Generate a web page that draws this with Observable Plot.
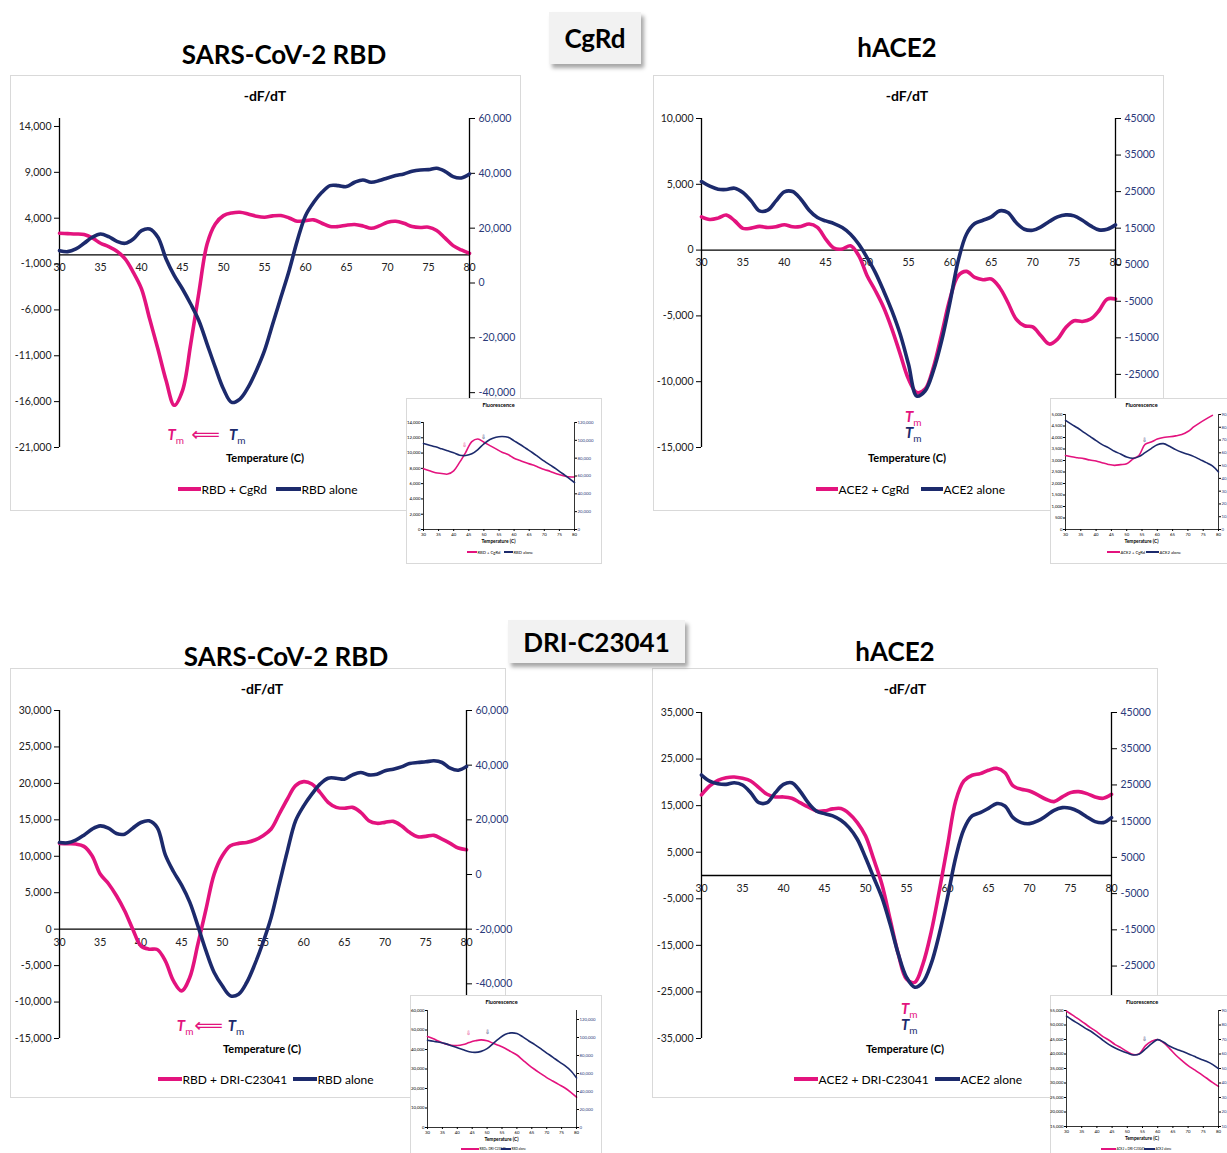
<!DOCTYPE html>
<html>
<head>
<meta charset="utf-8">
<script src="https://cdn.jsdelivr.net/npm/d3@7"></script>
<script src="https://cdn.jsdelivr.net/npm/@observablehq/plot@0.6"></script>
<style>
  html, body { margin:0; padding:0; background:#fff; overflow:hidden; }
  #root { position:relative; width:1227px; height:1153px; overflow:hidden; background:#fff;
          font-family: Lato, "Open Sans", "DejaVu Sans", sans-serif; color:#000; }
  #root > * { position:absolute; }
  .frame { border:1px solid #d9d9d9; box-sizing:border-box; }
  .ctr { transform: translate(-50%, -50%); white-space:nowrap; }
  .vc { transform: translateY(-50%); white-space:nowrap; }
  .title { font-size:26px; font-weight:700; }
  .tag { background:#f2f2f2; box-shadow: 3px 4px 4px rgba(0,0,0,0.35); font-size:26px; font-weight:700;
         display:flex; align-items:center; justify-content:center; box-sizing:border-box; }
  .sub { font-size:14px; font-weight:700; }
  .xl { font-size:11px; font-weight:700; }
  .leg { font-size:12px; }
  .tm { font-size:15px; font-weight:700; font-style:italic; line-height:1; }
  .tm sub { font-size:10px; font-style:normal; font-weight:400; }
  .inset { background:#fff; border:1px solid #d9d9d9; box-sizing:border-box; }
  .ititle { font-size:5.5px; font-weight:700; }
  .ixl { font-size:4.8px; font-weight:700; }
  .ileg { font-size:4.2px; }
  .ileg2 { font-size:3.1px; }
</style>
</head>
<body>
<div id="root"></div>
<script>
// ---------------- DATA ----------------
const temps = [30,31,32,33,34,35,36,37,38,39,40,41,42,43,44,45,46,47,48,49,50,51,52,53,54,55,56,57,58,59,60,61,62,63,64,65,66,67,68,69,70,71,72,73,74,75,76,77,78,79,80];
const xTicks = [30,35,40,45,50,55,60,65,70,75,80];
const tempsInset = [30,32,34,36,38,40,42,44,46,48,50,52,54,56,58,60,62,64,66,68,70,72,74,76,78,80];

// Panel A: SARS-CoV-2 RBD, CgRd  (-dF/dT)
const rbdCgRd = [2360,2320,2280,2210,1850,1270,900,390,-440,-1900,-3700,-7000,-10260,-13700,-16400,-14800,-9730,-4100,1190,3380,4280,4570,4650,4470,4220,4100,4250,4290,4030,3670,3740,3820,3450,3090,3090,3240,3310,3160,2900,3160,3560,3670,3450,3090,2980,3020,2650,1850,1010,540,170];
const rbdAloneA = [11800,11430,12410,14480,16670,17880,16910,15210,14480,16060,19100,19710,16670,8760,2680,-2190,-7660,-13750,-22260,-30780,-38680,-43550,-42330,-38080,-31990,-24700,-14960,-5230,4500,15450,24570,29440,33090,35520,35520,35160,36740,37590,36740,37350,38320,39170,39780,40750,41240,41360,41850,40750,38810,38320,39780];
const ticksA_left = [-21000,-16000,-11000,-6000,-1000,4000,9000,14000];
const ticksA_right = [-40000,-20000,0,20000,40000,60000];

// Panel B: hACE2, CgRd
const ace2CgRd = [2530,2330,2430,2660,2230,1650,1670,1800,1720,1770,1930,1770,1800,1980,1720,840,150,80,330,-430,-1950,-3090,-4360,-6000,-7900,-9800,-10820,-10560,-8920,-6380,-3720,-1950,-1620,-2080,-2250,-2200,-2840,-3980,-5240,-5750,-5830,-6510,-7140,-6760,-5880,-5370,-5420,-5240,-4610,-3720,-3720];
const ace2AloneB = [27760,26480,25660,25570,25930,24750,22460,19730,19910,22460,24930,25020,22920,19910,17900,16990,16260,15160,13340,10600,6950,2850,-2170,-7640,-14030,-22240,-30910,-29540,-24060,-15850,-5360,6040,13340,16260,17170,18080,19730,19270,16530,14710,14430,15350,16810,18080,18630,18360,17170,15620,14530,14710,15900];
const ticksB_left = [-15000,-10000,-5000,0,5000,10000];
const ticksB_right = [-25000,-15000,-5000,5000,15000,25000,35000,45000];

// Panel C: SARS-CoV-2 RBD, DRI-C23041
const rbdDRI = [11770,11720,11680,11360,10070,7560,6270,4580,2520,0,-2290,-2750,-2790,-4350,-7100,-8470,-6640,-2060,2750,7560,10070,11450,11770,11900,12230,12820,13740,15800,17860,19690,20240,19920,18770,17400,16710,16580,16710,16030,14880,14520,14650,14790,14190,13280,12680,12730,12870,12360,11770,11130,10900];
const rbdAloneC = [11710,11590,12560,14390,16590,17800,16950,15000,14760,16950,19020,19630,17200,7200,1100,-3900,-10100,-18780,-27930,-35850,-40730,-44390,-43780,-39510,-32800,-24880,-15730,-3540,8660,19630,25120,29390,33050,35240,35240,34880,36460,37320,36460,36710,37930,38540,39390,40610,40980,41220,41590,40980,38900,38170,39510];
const ticksC_left = [-15000,-10000,-5000,0,5000,10000,15000,20000,25000,30000];
const ticksC_right = [-40000,-20000,0,20000,40000,60000];

// Panel D: hACE2, DRI-C23041
const ace2DRI = [17300,19230,20440,21010,21160,20870,20300,18870,17440,16870,16870,16580,15650,14720,13870,13870,14300,14370,13300,11370,8510,3500,-1860,-9360,-16870,-22230,-22950,-19010,-12220,-3290,6360,16010,20300,21520,21870,22590,23020,22090,19230,18510,18160,17300,16370,15870,16870,17800,18010,17580,16870,16580,17440];
const ace2AloneD = [27740,26080,25350,25160,25620,24980,22870,20110,20110,22870,25160,25620,23330,20110,17820,17080,16440,15250,13230,10010,4960,-550,-6060,-13400,-21670,-28100,-30850,-29470,-24420,-16160,-6060,4960,12770,16440,17360,18550,19840,19200,15980,14600,14330,15060,16440,18000,18740,18550,17640,16170,14880,14600,15980];
const ticksD_left = [-35000,-25000,-15000,-5000,5000,15000,25000,35000];
const ticksD_right = [-25000,-15000,-5000,5000,15000,25000,35000,45000];

// Insets: Fluorescence
const fA_pink = [7940,7680,7420,7330,7250,7680,8810,10110,11500,11850,11410,10980,10550,10110,9810,9330,9030,8720,8460,8160,7860,7600,7290,7070,6900,6860];
const fA_navy = [96440,94570,92700,90460,88220,85970,83360,82980,84850,89710,96070,100930,103540,104290,103540,99430,95320,90830,86350,81490,76630,72140,67660,62800,57940,52710];
const fB_pink = [3220,3160,3120,3080,3020,2980,2900,2830,2790,2820,2860,3060,3220,3700,3800,3930,4000,4030,4070,4130,4260,4470,4650,4810,4960];
const fB_navy = [85410,82290,79420,76040,72910,69530,66400,64060,61190,59110,56770,55730,57030,60150,63280,66400,67180,65100,62500,60410,58850,57030,54690,52340,49740,45050];
const fC_pink = [46680,45470,44090,42880,42190,42020,42530,43570,44440,44950,44440,43230,42020,40630,38900,37170,34570,31990,29740,27660,25590,23860,22130,20400,18150,15560];
const fC_navy = [96900,95780,94670,93180,90940,88700,86470,84230,83480,84600,87580,93180,98770,103240,105100,104360,100630,96160,92060,87580,82740,78270,73420,68950,63360,55160];
const fD_pink = [54780,53390,52010,50510,49010,47630,46020,44750,43250,42100,40830,39790,40140,42900,44400,44980,43830,41750,39560,37710,35990,34600,33220,31720,30220,28840];
const fD_navy = [86070,83300,80760,78000,75690,72700,69470,66470,64170,62320,60710,59330,60020,63480,67160,69930,68090,65320,63480,61860,60250,58400,56560,54950,52870,49880];

// Arrow markers on insets (onset temperature)
const fA_marks = {pink: [44], navy: [50]};
const fB_marks = {pink: [56], navy: []};
const fC_marks = {pink: [44], navy: [50]};
const fD_marks = {pink: [56], navy: []};

// ---------------- STYLE ----------------
const PINK = "#e3137e", NAVY = "#1c2a6c", NAVYTXT = "#2b3a7a";
const fmtComma = d => d.toLocaleString("en-US");
const fmtPlain = d => String(d);

const root = document.getElementById("root");
function add(html, x, y, cls, style) {
  const d = document.createElement("div");
  d.className = cls || "";
  d.style.cssText = (style || "") + `left:${x}px;top:${y}px;`;
  d.innerHTML = html;
  root.appendChild(d);
  return d;
}
function addNode(node, x, y) {
  node.style.position = "absolute";
  node.style.left = x + "px";
  node.style.top = y + "px";
  root.appendChild(node);
}
function legend(items, y, cls, lh) {
  items.forEach(it => {
    add("", it.x1, y - lh / 2, "", `width:${it.x2 - it.x1}px;height:${lh}px;background:${it.color};`);
    add(it.label, it.x2 + 0.5, y, cls + " vc", "");
  });
}
const tMin = arr => temps[d3.minIndex(arr)];

// ---------------- MAIN PANEL ----------------
function mainPanel(c) {
  const base = {
    width: c.w, height: c.h, marginLeft: c.ml, marginRight: c.mr, marginTop: c.mt, marginBottom: c.mb,
    x: {domain: [30, 80], axis: null},
    style: {fontFamily: "Lato, 'Open Sans', sans-serif", fontSize: "10.5px", background: "transparent", color: "#000", overflow: "visible"}
  };
  const left = Plot.plot({...base, y: {domain: c.leftDomain}, marks: [
    Plot.ruleX([30], {stroke: "#000", strokeWidth: 1.3}),
    Plot.ruleY([0], {stroke: "#000", strokeWidth: 1.3}),
    Plot.axisY(c.leftTicks, {anchor: "left", tickFormat: fmtComma, tickSize: 5, tickPadding: 3, label: null, stroke: "#000", fill: "#222"}),
    Plot.text(xTicks, {x: d => d, y: 0, dy: 13, text: d => String(d), fill: "#222"}),
    Plot.line(c.pink, {x: temps, y: c.pink, stroke: PINK, strokeWidth: 3.6, curve: "catmull-rom"})
  ]});
  const right = Plot.plot({...base, y: {domain: c.rightDomain}, marks: [
    Plot.ruleX([80], {stroke: "#000", strokeWidth: 1.3}),
    Plot.axisY(c.rightTicks, {anchor: "right", tickFormat: c.rightFmt, tickSize: 5, tickPadding: 4, label: null, stroke: "#000", fill: NAVYTXT}),
    Plot.line(c.navy, {x: temps, y: c.navy, stroke: NAVY, strokeWidth: 3.6, curve: "catmull-rom"})
  ]});
  addNode(left, c.x, c.y);
  addNode(right, c.x, c.y);
  return v => c.x + left.scale("x").apply(v);
}

// ---------------- INSET ----------------
function inset(c) {
  add("", c.bx, c.by, "inset", `width:${c.bw}px;height:${c.bh}px;`);
  const base = {
    width: c.bw, height: c.bh, marginLeft: c.ml, marginRight: c.mr, marginTop: c.mt, marginBottom: c.mb,
    x: {domain: [30, 80], axis: null},
    style: {fontFamily: "Lato, sans-serif", fontSize: "4.3px", background: "transparent", color: "#000", overflow: "visible"}
  };
  const pinkT = tempsInset.slice(0, c.pink.length);
  const valAt = (arr, t) => arr[tempsInset.indexOf(t)];
  const left = Plot.plot({...base, y: {domain: c.leftDomain}, marks: [
    Plot.ruleX([30], {stroke: "#000", strokeWidth: 0.8}),
    Plot.ruleY([c.leftDomain[0]], {stroke: "#000", strokeWidth: 0.8}),
    Plot.axisY(c.leftTicks, {anchor: "left", tickFormat: fmtComma, tickSize: 2, tickPadding: 1, label: null}),
    Plot.axisX(xTicks, {anchor: "bottom", tickSize: 2, tickPadding: 1, label: null}),
    Plot.line(c.pink, {x: pinkT, y: c.pink, stroke: PINK, strokeWidth: 1.6, curve: "catmull-rom"}),
    Plot.text(c.marks.pink, {x: d => d, y: d => valAt(c.pink, d), dy: c.pinkDy, dx: -1, text: () => "⇩", fill: c.pinkMarkColor || PINK, fontSize: 6})
  ]});
  const right = Plot.plot({...base, y: {domain: c.rightDomain}, marks: [
    Plot.ruleX([80], {stroke: "#000", strokeWidth: 0.8}),
    Plot.axisY(c.rightTicks, {anchor: "right", tickFormat: fmtComma, tickSize: 2, tickPadding: 1, label: null, stroke: "#000", fill: NAVYTXT}),
    Plot.line(c.navy, {x: tempsInset, y: c.navy, stroke: NAVY, strokeWidth: 1.6, curve: "catmull-rom"}),
    Plot.text(c.marks.navy, {x: d => d, y: d => valAt(c.navy, d), dy: c.navyDy, text: () => "⇩", fill: NAVY, fontSize: 6})
  ]});
  addNode(left, c.bx, c.by);
  addNode(right, c.bx, c.by);
  const cx = c.bx + (c.ml + c.bw - c.mr) / 2;
  add("Fluorescence", cx, c.by + 6.5, "ctr ititle", "");
  add("Temperature (C)", cx, c.by + c.bh - c.mb + 12, "ctr ixl", "");
  legend(c.legend, c.legY, c.legCls, 1.4);
}

// ---------------- HEADERS & FRAMES ----------------
add("", 10, 75, "frame", "width:511px;height:436px;");
add("", 653, 75, "frame", "width:511px;height:436px;");
add("", 10, 668, "frame", "width:496px;height:430px;");
add("", 652, 668, "frame", "width:506px;height:430px;");

add("SARS-CoV-2 RBD", 284, 54, "ctr title", "");
add("hACE2", 897, 47, "ctr title", "");
add("CgRd", 549, 12, "tag", "width:92px;height:52px;");
add("SARS-CoV-2 RBD", 286, 656, "ctr title", "");
add("hACE2", 895, 651, "ctr title", "");
add("DRI-C23041", 508, 620, "tag", "width:177px;height:43px;");

// ---------------- PANEL A ----------------
const sxA = mainPanel({x: 0, y: 100, w: 540, h: 360, ml: 59, mr: 71, mt: 18, mb: 13,
  leftDomain: [-21000, 14870], leftTicks: ticksA_left,
  rightDomain: [-60000, 60000], rightTicks: ticksA_right, rightFmt: fmtComma,
  pink: rbdCgRd, navy: rbdAloneA});
add("-dF/dT", 265, 95, "ctr sub", "");
add("Temperature (C)", 265, 457, "ctr xl", "");
add("<i>T</i><sub>m</sub>", sxA(tMin(rbdCgRd)) + 2, 436, "ctr tm", `color:${PINK};`);
add("<i>T</i><sub>m</sub>", sxA(tMin(rbdAloneA)) + 6, 436, "ctr tm", `color:${NAVY};`);
add("⟸", (sxA(tMin(rbdCgRd)) + sxA(tMin(rbdAloneA))) / 2 + 3, 434, "ctr", `color:${PINK};font-size:20px;font-family:'DejaVu Sans';`);
legend([{x1: 178, x2: 201, color: PINK, label: "RBD + CgRd"}, {x1: 276, x2: 301, color: NAVY, label: "RBD alone"}], 489, "leg", 3.5);

// ---------------- PANEL B ----------------
const sxB = mainPanel({x: 640, y: 100, w: 580, h: 360, ml: 61, mr: 105, mt: 18, mb: 13,
  leftDomain: [-15000, 10000], leftTicks: ticksB_left,
  rightDomain: [-45000, 45000], rightTicks: ticksB_right, rightFmt: fmtPlain,
  pink: ace2CgRd, navy: ace2AloneB});
add("-dF/dT", 907, 95, "ctr sub", "");
add("Temperature (C)", 907, 457, "ctr xl", "");
add("<i>T</i><sub>m</sub>", sxB(tMin(ace2CgRd)) - 3, 418, "ctr tm", `color:${PINK};`);
add("<i>T</i><sub>m</sub>", sxB(tMin(ace2AloneB)) - 3, 434, "ctr tm", `color:${NAVY};`);
legend([{x1: 816, x2: 838, color: PINK, label: "ACE2 + CgRd"}, {x1: 921, x2: 943, color: NAVY, label: "ACE2 alone"}], 489, "leg", 3.5);

// ---------------- PANEL C ----------------
const sxC = mainPanel({x: 0, y: 692, w: 540, h: 360, ml: 59, mr: 74, mt: 18, mb: 14,
  leftDomain: [-15000, 30000], leftTicks: ticksC_left,
  rightDomain: [-60000, 60000], rightTicks: ticksC_right, rightFmt: fmtComma,
  pink: rbdDRI, navy: rbdAloneC});
add("-dF/dT", 262, 688, "ctr sub", "");
add("Temperature (C)", 262, 1048, "ctr xl", "");
add("<i>T</i><sub>m</sub>", sxC(tMin(rbdDRI)) + 4, 1027, "ctr tm", `color:${PINK};`);
add("<i>T</i><sub>m</sub>", sxC(tMin(rbdAloneC)) + 6, 1027, "ctr tm", `color:${NAVY};`);
add("⟸", (sxC(tMin(rbdDRI)) + sxC(tMin(rbdAloneC))) / 2 + 3, 1025, "ctr", `color:${PINK};font-size:20px;font-family:'DejaVu Sans';`);
legend([{x1: 158, x2: 182, color: PINK, label: "RBD + DRI-C23041"}, {x1: 293, x2: 317, color: NAVY, label: "RBD alone"}], 1079, "leg", 3.5);

// ---------------- PANEL D ----------------
const sxD = mainPanel({x: 640, y: 692, w: 580, h: 360, ml: 61, mr: 109, mt: 20, mb: 14,
  leftDomain: [-35000, 35000], leftTicks: ticksD_left,
  rightDomain: [-45000, 45000], rightTicks: ticksD_right, rightFmt: fmtPlain,
  pink: ace2DRI, navy: ace2AloneD});
add("-dF/dT", 905, 688, "ctr sub", "");
add("Temperature (C)", 905, 1048, "ctr xl", "");
add("<i>T</i><sub>m</sub>", sxD(tMin(ace2DRI)) - 5, 1010, "ctr tm", `color:${PINK};`);
add("<i>T</i><sub>m</sub>", sxD(tMin(ace2AloneD)) - 5, 1026, "ctr tm", `color:${NAVY};`);
legend([{x1: 794, x2: 818, color: PINK, label: "ACE2 + DRI-C23041"}, {x1: 935, x2: 960, color: NAVY, label: "ACE2 alone"}], 1079, "leg", 3.5);

// ---------------- INSETS ----------------
inset({bx: 406, by: 398, bw: 196, bh: 166, ml: 17, mr: 28, mt: 24, mb: 35,
  leftDomain: [0, 14000], leftTicks: [0,2000,4000,6000,8000,10000,12000,14000],
  rightDomain: [0, 120000], rightTicks: [0,20000,40000,60000,80000,100000,120000],
  pink: fA_pink, navy: fA_navy, marks: fA_marks, pinkDy: -7, navyDy: -7, legY: 552, legCls: "ileg",
  legend: [{x1: 467, x2: 477, color: PINK, label: "RBD + CgRd"}, {x1: 504, x2: 513, color: NAVY, label: "RBD alone"}]});
inset({bx: 1050, by: 398, bw: 182, bh: 166, ml: 15, mr: 14, mt: 16, mb: 35,
  leftDomain: [0, 5000], leftTicks: [0,500,1000,1500,2000,2500,3000,3500,4000,4500,5000],
  rightDomain: [0, 90000], rightTicks: [0,10000,20000,30000,40000,50000,60000,70000,80000,90000],
  pink: fB_pink, navy: fB_navy, marks: fB_marks, pinkMarkColor: NAVY, pinkDy: -4, navyDy: -7, legY: 552, legCls: "ileg",
  legend: [{x1: 1107, x2: 1120, color: PINK, label: "ACE2 + CgRd"}, {x1: 1146, x2: 1159, color: NAVY, label: "ACE2 alone"}]});
inset({bx: 410, by: 995, bw: 192, bh: 160, ml: 17, mr: 26, mt: 15, mb: 28,
  leftDomain: [0, 60000], leftTicks: [0,10000,20000,30000,40000,50000,60000],
  rightDomain: [0, 130000], rightTicks: [0,20000,40000,60000,80000,100000,120000],
  pink: fC_pink, navy: fC_navy, marks: fC_marks, pinkDy: -9, navyDy: -17, legY: 1149, legCls: "ileg2",
  legend: [{x1: 461, x2: 479, color: PINK, label: "RBD+ DRI-C23041"}, {x1: 501, x2: 511, color: NAVY, label: "RBD alone"}]});
inset({bx: 1050, by: 995, bw: 182, bh: 160, ml: 16, mr: 14, mt: 15, mb: 29,
  leftDomain: [15000, 55000], leftTicks: [15000,20000,25000,30000,35000,40000,45000,50000,55000],
  rightDomain: [10000, 90000], rightTicks: [10000,20000,30000,40000,50000,60000,70000,80000,90000],
  pink: fD_pink, navy: fD_navy, marks: fD_marks, pinkMarkColor: NAVY, pinkDy: -7, navyDy: -7, legY: 1149, legCls: "ileg2",
  legend: [{x1: 1101, x2: 1116, color: PINK, label: "ACE2 + DRI-C23041"}, {x1: 1144, x2: 1155, color: NAVY, label: "ACE2 alone"}]});
</script>
</body>
</html>
